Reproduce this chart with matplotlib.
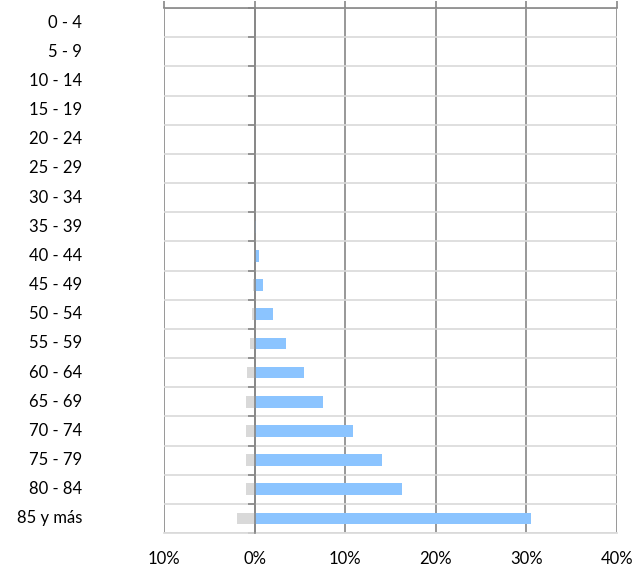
import matplotlib
matplotlib.use("Agg")
import matplotlib.pyplot as plt
from matplotlib.ticker import FuncFormatter, FixedLocator

plt.rcParams["font.family"] = ["Lato", "DejaVu Sans"]

age_groups = ["0 - 4", "5 - 9", "10 - 14", "15 - 19", "20 - 24", "25 - 29", "30 - 34",
              "35 - 39", "40 - 44", "45 - 49", "50 - 54", "55 - 59", "60 - 64",
              "65 - 69", "70 - 74", "75 - 79", "80 - 84", "85 y más"]
# left side (gray), percent, drawn as negatives
left_pct = [0, 0, 0, 0, 0, 0, 0, 0, 0.05, 0.2, 0.3, 0.55, 0.85, 0.95, 1.0, 1.0, 1.0, 1.95]
# right side (blue), percent
right_pct = [0, 0, 0, 0, 0, 0, 0, 0.15, 0.45, 0.95, 2.0, 3.5, 5.4, 7.5, 10.9, 14.1, 16.3, 30.5]
x_ticks = [-10, 0, 10, 20, 30, 40]

fig = plt.figure(figsize=(6.38, 5.71), dpi=100)
ax = fig.add_axes([164 / 638, 1 - 533 / 571, 453 / 638, 525 / 571])

pos = list(range(len(age_groups)))
ax.barh(pos, [-v for v in left_pct], height=0.4, color="#d9d9d9", edgecolor="none", zorder=3)
ax.barh(pos, right_pct, height=0.4, color="#8bc4ff", edgecolor="none", zorder=3)

ax.set_xlim(-10, 40)
ax.set_ylim(len(age_groups) - 0.5, -0.5)

# x axis
ax.xaxis.set_major_locator(FixedLocator(x_ticks))
ax.xaxis.set_major_formatter(FuncFormatter(lambda v, p: f"{abs(v):.0f}%"))
ax.tick_params(axis="x", top=True, bottom=False, labeltop=False, labelbottom=True,
               length=5, width=1.2, color="#868686", pad=8, labelsize=12)
ax.grid(axis="x", color="#868686", linewidth=1.2, zorder=1)

# y axis sits at 0, ticks on category boundaries
bounds = [i - 0.5 for i in range(len(age_groups) + 1)]
ax.yaxis.set_major_locator(FixedLocator(bounds))
ax.set_yticklabels([])
ax.spines["left"].set_position(("data", 0))
ax.spines["left"].set_color("#868686")
ax.spines["left"].set_linewidth(1.2)
ax.spines["left"].set_zorder(4)
ax.tick_params(axis="y", length=5, width=1.2, color="#868686", direction="out")
ax.grid(axis="y", color="#d9d9d9", linewidth=1.2, zorder=1)

ax.spines["right"].set_visible(False)
ax.spines["top"].set_color("#868686")
ax.spines["top"].set_linewidth(1.2)
ax.spines["bottom"].set_color("#d9d9d9")
ax.spines["bottom"].set_linewidth(1.2)

# category labels, right aligned well left of the plot area
for i, name in enumerate(age_groups):
    ax.text(-0.181, i, name, transform=ax.get_yaxis_transform(), ha="right", va="center",
            fontsize=12)

fig.savefig("out.png", dpi=100)
